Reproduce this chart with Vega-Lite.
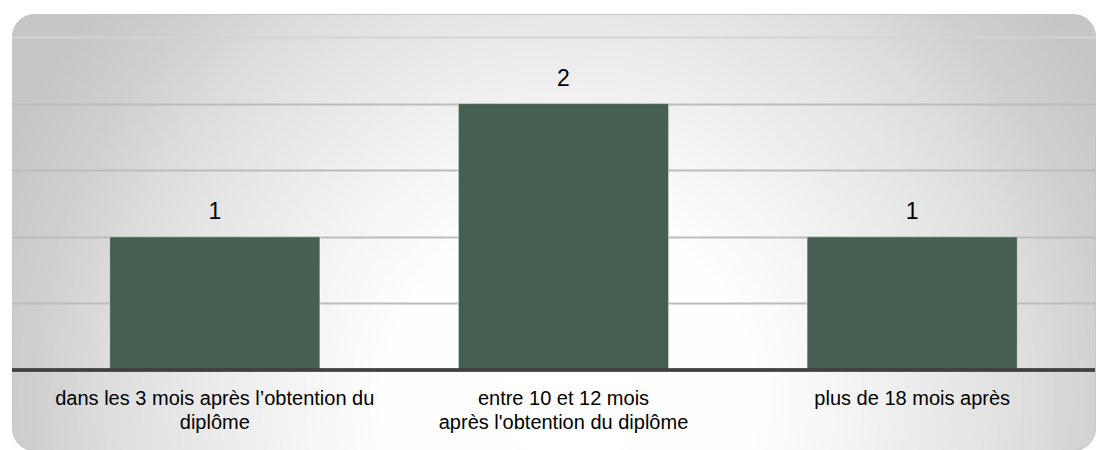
{
  "$schema": "https://vega.github.io/schema/vega-lite/v6.json",
  "autosize": {"type": "fit", "contains": "padding"},
  "width": 1102,
  "height": 450,
  "padding": {"left": 10, "top": 14, "right": 5, "bottom": 0},
  "background": "#ffffff",
  "config": {
    "font": "Liberation Sans",
    "view": {
      "cornerRadius": 22,
      "stroke": "#c6c6c6",
      "strokeWidth": 1,
      "fill": {
        "gradient": "radial",
        "x1": 0.5152, "y1": 0.6545, "r1": 0,
        "x2": 0.5152, "y2": 0.6545, "r2": 0.5704,
        "stops": [
          {"offset": 0, "color": "#ffffff"},
          {"offset": 0.3, "color": "#fefefe"},
          {"offset": 0.45, "color": "#f4f4f4"},
          {"offset": 0.6, "color": "#e9e9e9"},
          {"offset": 0.76, "color": "#dcdcdc"},
          {"offset": 0.87, "color": "#cfcfcf"},
          {"offset": 1, "color": "#c6c6c6"}
        ]
      }
    }
  },
  "data": {
    "values": [
      {"cat": "dans les 3 mois après l’obtention du diplôme", "n": 1},
      {"cat": "entre 10 et 12 mois après l'obtention du diplôme", "n": 2},
      {"cat": "plus de 18 mois après", "n": 1}
    ]
  },
  "encoding": {
    "x": {
      "field": "cat",
      "type": "nominal",
      "sort": null,
      "title": null,
      "scale": {"paddingInner": 0.397, "paddingOuter": 0.2514, "align": 0.557},
      "axis": {
        "orient": "bottom",
        "offset": -80,
        "domain": false,
        "ticks": false,
        "tickSize": 0,
        "labelAngle": 0,
        "labelFont": "Liberation Sans",
        "labelFontSize": 20,
        "labelColor": "#000000",
        "labelLineHeight": 24,
        "labelBaseline": "top",
        "labelPadding": 18,
        "labelLimit": 500,
        "labelOverlap": false,
        "labelBound": false,
        "labelExpr": "indexof(datum.value, 'dans') == 0 ? ['dans les 3 mois après l’obtention du', 'diplôme'] : indexof(datum.value, 'entre') == 0 ? [\"entre 10 et 12 mois\", \"après l'obtention du diplôme\"] : datum.value"
      }
    },
    "y": {
      "field": "n",
      "type": "quantitative",
      "title": null,
      "scale": {"domain": [-0.6006, 2.6727], "nice": false, "zero": false},
      "axis": {
        "values": [0.5, 1, 1.5, 2, 2.5],
        "domain": false,
        "ticks": false,
        "labels": false,
        "grid": true,
        "gridWidth": 2,
        "gridColor": {"condition": {"test": "datum.value === 2.5", "value": "#d4d4d4"}, "value": "#bcbcbc"}
      }
    }
  },
  "layer": [
    {
      "mark": {"type": "bar", "color": "#455f50", "stroke": "#ffffff", "strokeOpacity": 0.5, "strokeWidth": 1},
      "encoding": {"y2": {"datum": 0}}
    },
    {
      "mark": {"type": "rule", "color": "#404040", "strokeWidth": 3},
      "encoding": {"y": {"datum": 0}, "x": null}
    },
    {
      "mark": {"type": "text", "baseline": "alphabetic", "dy": -18, "fontSize": 23, "font": "Liberation Sans", "color": "#000000"},
      "encoding": {"text": {"field": "n", "type": "quantitative"}}
    }
  ]
}
